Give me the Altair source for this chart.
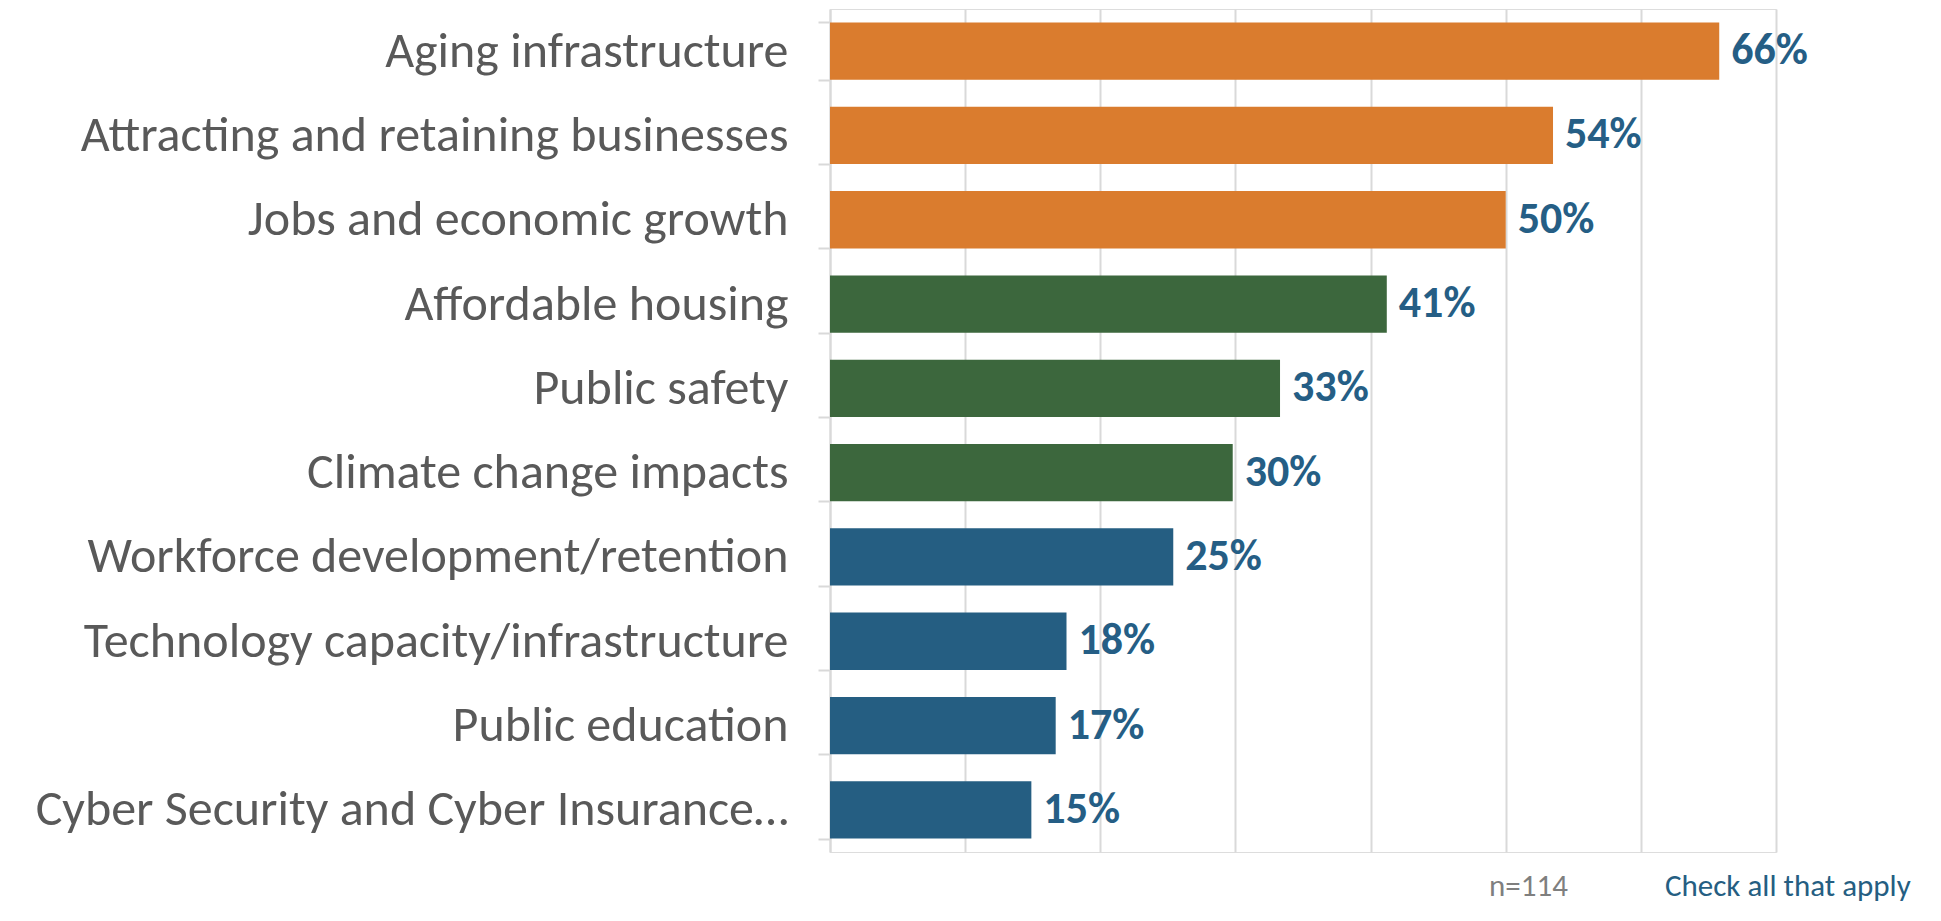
import altair as alt
import pandas as pd

categories = [
    "Aging infrastructure",
    "Attracting and retaining businesses",
    "Jobs and economic growth",
    "Affordable housing",
    "Public safety",
    "Climate change impacts",
    "Workforce development/retention",
    "Technology capacity/infrastructure",
    "Public education",
    "Cyber Security and Cyber Insurance…",
]
values = [65.8, 53.5, 50.0, 41.2, 33.3, 29.8, 25.4, 17.5, 16.7, 14.9]
groups = ["top", "top", "top", "mid", "mid", "mid", "low", "low", "low", "low"]
group_colors = {"top": "#da7c2e", "mid": "#3c673d", "low": "#255e82"}
x_ticks = [0, 10, 20, 30, 40, 50, 60, 70]
footnotes = ["n=114", "Check all that apply"]

df = pd.DataFrame({"cat": categories, "v": values, "g": groups})

FONT = "Carlito, Lato, sans-serif"

y_enc = alt.Y(
    "cat:N",
    sort=categories,
    scale=alt.Scale(paddingInner=0.32, paddingOuter=0.16),
    axis=alt.Axis(
        title=None,
        labelFont=FONT,
        labelFontSize=50,
        labelColor="#595959",
        labelPadding=30,
        labelLimit=900,
        domainColor="#d9d9d9",
        domainWidth=2,
        tickColor="#d9d9d9",
        tickWidth=2,
        tickSize=12,
        tickBand="extent",
        grid=False,
    ),
)

x_enc = alt.X(
    "v:Q",
    scale=alt.Scale(domain=[0, 70], nice=False, zero=True),
    axis=alt.Axis(
        title=None,
        values=x_ticks,
        labels=False,
        ticks=False,
        domain=False,
        grid=True,
        gridColor="#d9d9d9",
        gridWidth=2,
    ),
)

bars = alt.Chart(df).mark_bar().encode(
    y=y_enc,
    x=x_enc,
    color=alt.Color(
        "g:N",
        scale=alt.Scale(domain=list(group_colors.keys()), range=list(group_colors.values())),
        legend=None,
    ),
)

labels = alt.Chart(df).transform_calculate(
    lab="format(datum.v, '.0f') + '%'"
).mark_text(
    align="left", baseline="middle", dx=12, font=FONT, fontSize=44,
    fontWeight="bold", color="#255e85"
).encode(
    y=alt.Y("cat:N", sort=categories),
    x=alt.X("v:Q"),
    text="lab:N",
)

fn_df = pd.DataFrame({"t": footnotes})
foot1 = alt.Chart(fn_df.iloc[[0]]).mark_text(
    align="left", baseline="middle", font=FONT, fontSize=31, color="#7f7f7f"
).encode(text="t:N", x=alt.value(659), y=alt.value(878))
foot2 = alt.Chart(fn_df.iloc[[1]]).mark_text(
    align="left", baseline="middle", font=FONT, fontSize=31, color="#255e82"
).encode(text="t:N", x=alt.value(835), y=alt.value(878))

chart = alt.layer(bars, labels, foot1, foot2).properties(
    width=946,
    height=843,
    autosize="none",
    padding={"left": 822, "top": 1, "right": 149, "bottom": 61},
).configure_view(stroke=None).configure(background="white")

chart.save("out.html", embed_options={"renderer": "svg", "actions": False})
